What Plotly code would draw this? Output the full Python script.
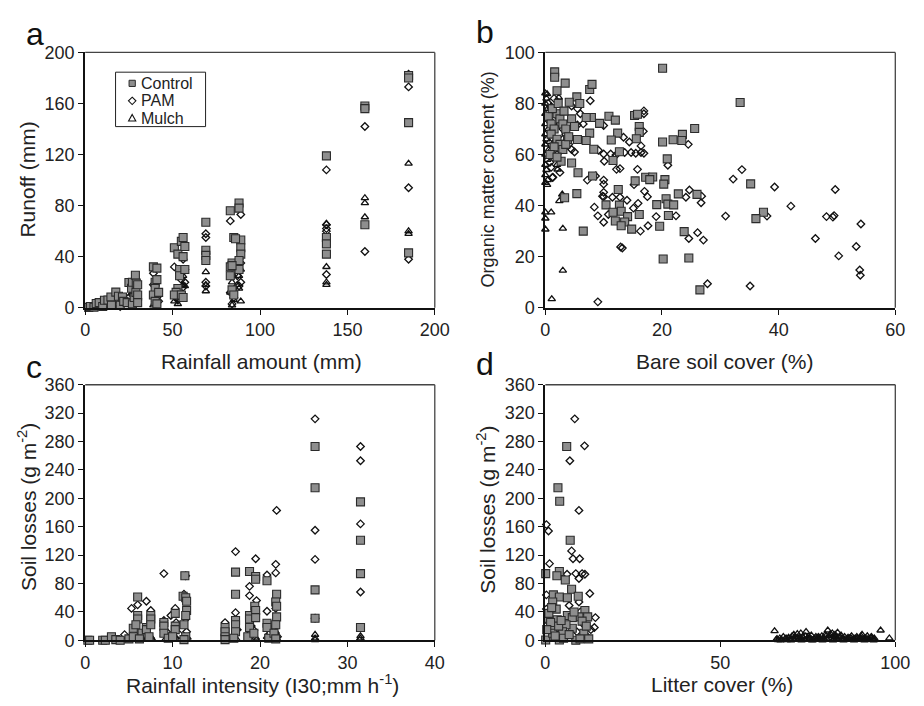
import plotly.graph_objects as go

# ---------------- Panel a: runoff vs rainfall amount ----------------
a_ctrl_x = [2, 3, 5, 6.3, 8, 10, 11, 13, 14.7, 15, 17.5, 19, 20, 21.3, 22, 24, 25, 26.5, 27, 27, 28, 28.7, 29, 29.2, 30, 30, 30,
            39, 40, 40, 39, 40, 41, 41, 42, 41,
            51, 53, 55, 56, 57, 56, 54, 54, 53, 52, 51, 55, 57, 56,
            69, 69, 69, 69,
            83, 85, 84, 83, 83, 84, 85, 88, 88, 89, 89, 89, 88, 88, 86, 84,
            138, 138, 138, 138, 160, 160, 160, 185, 185, 185, 185]
a_ctrl_y = [0.3, 1, 0.5, 3.3, 4, 1, 5.9, 6, 8.4, 2, 12.2, 9, 2, 8.4, 5, 4, 19.8, 15.3, 20, 3, 8, 25.4, 12, 19.3, 18, 10, 4,
            32, 20, 15, 10, 5, 31, 22, 12, 3,
            47, 42, 52, 55, 48, 40, 30, 25, 15, 12, 10, 10, 30, 8,
            67, 45, 41, 37,
            76, 55, 35, 32, 25, 14, 10, 82, 78, 53, 47, 42, 37, 30, 54, 33,
            119, 55, 50, 42, 158, 156, 65, 182, 180, 145, 43]

a_pam_x = [2, 5, 8, 12, 15, 18, 20, 22, 25, 26, 27, 28, 29, 30,
           39, 40, 41, 40, 39, 42,
           51, 56, 57, 55, 54, 52, 53, 57, 56, 55,
           69, 69, 69, 69, 69,
           83, 89, 88, 89, 87, 89, 88, 84, 83, 85, 84,
           138, 138, 138, 138, 138, 160, 160, 185, 185, 185, 185]
a_pam_y = [0.5, 1, 2, 3, 3, 4, 1, 5, 8, 4, 10, 15, 8, 6,
           27, 12, 8, 3, 18, 5,
           32, 38, 30, 27, 12, 8, 6, 20, 16, 22,
           58, 55, 20, 17, 42,
           68, 73, 38, 35, 25, 20, 17, 25, 12, 8, 3,
           108, 65, 62, 60, 26, 142, 44, 183, 173, 94, 38]

a_mulch_x = [3, 6, 10, 14, 18, 22, 25, 27, 28, 29, 30,
             40, 41, 39,
             51, 53, 56, 57, 55, 54, 52, 56,
             69, 69, 69, 69,
             89, 88, 89, 88, 84, 83, 85, 84, 87,
             138, 138, 138, 138, 160, 160, 160, 185, 185, 185]
a_mulch_y = [0.3, 0.5, 1, 1, 2, 3, 5, 12, 8, 4, 3,
             6, 3, 2,
             5, 3, 18, 17, 10, 8, 12, 25,
             43, 28, 18, 13,
             30, 25, 5, 15, 20, 12, 6, 2, 18,
             66, 32, 20, 18, 86, 82, 71, 113, 60, 58]

# ---------------- Panel b: organic matter vs bare soil cover ----------------
b_ctrl_x = [1.6, 1.6, 2.0, 3.4, 7.6, 8.0, 5.4, 4.1, 5.9, 20.1, 33.4, 10.9, 12.0, 7.9, 7.0, 9.3, 15.3, 15.8, 25.6, 23.5,
            21.9, 23.4, 20.1, 12.4, 11.3, 7.6, 7.0, 5.5, 3.8, 16.1, 16.1, 15.6, 12.7, 8.3, 11.6, 20.9, 4.5, 2.7, 5.6, 8.1,
            17.2, 18.4, 17.9, 15.4, 20.5, 20.3, 35.2, 12.5, 5.4, 22.8, 26.0, 3.3, 19.1, 20.7, 10.4, 12.7, 21.0, 22.0, 37.4, 36.1,
            13.0, 14.1, 16.1, 11.6, 12.0, 13.6, 13.0, 14.8, 19.6, 6.5, 23.8, 20.2, 24.6, 26.5, 21.1,
            0.5, 1.0, 1.5, 2.0, 2.5, 3.0, 3.5, 1.0, 2.0, 2.5, 3.0, 1.5, 0.8, 2.0, 3.5, 4.0, 4.5, 5.0, 1.2, 2.2, 3.2]
b_ctrl_y = [92.4, 90.3, 85.0, 88.0, 85.5, 87.5, 82.6, 80.5, 80.0, 93.8, 80.4, 75.0, 73.5, 74.5, 74.5, 72.2, 75.3, 75.8, 70.2, 67.9,
            65.8, 65.5, 64.9, 68.4, 65.7, 68.4, 65.5, 65.9, 65.9, 71.0, 68.7, 66.2, 61.1, 62.1, 57.7, 58.3, 56.7, 57.4, 52.9, 51.6,
            51.1, 51.2, 50.2, 49.7, 50.2, 48.4, 48.5, 46.3, 44.7, 44.6, 44.4, 43.1, 40.4, 42.7, 40.3, 40.2, 40.6, 40.3, 37.4, 34.9,
            37.8, 35.7, 36.5, 37.4, 34.0, 33.6, 32.1, 30.8, 31.9, 30.0, 29.8, 19.1, 19.5, 7.0, 36.1,
            75, 72, 70, 76, 74, 72, 70, 68, 66, 64, 62, 63, 60, 59, 64, 67, 74, 71, 78, 80, 77]

b_pam_x = [7.7, 16.9, 16.9, 10.0, 16.8, 5.5, 24.5, 13.4, 14.4, 14.7, 15.5, 13.6, 10.0, 11.2, 12.1, 16.4, 16.4, 16.9, 9.1, 10.1,
           21.0, 12.8, 12.2, 15.8, 15.2, 7.2, 8.6, 1.3, 10.0, 10.0, 10.0, 10.0, 9.8, 11.5, 12.8, 17.0, 17.5, 15.9, 14.0, 10.8,
           8.4, 9.0, 10.0, 15.1, 19.0, 17.6, 16.3, 22.4, 24.7, 24.1, 26.8, 26.7, 26.1, 24.6, 27.1, 27.8, 32.2, 33.7, 30.9, 38.0,
           35.1, 39.3, 42.1, 46.3, 48.2, 49.3, 49.5, 49.7, 50.3, 53.3, 53.9, 54.0, 54.1, 13.2, 12.9, 9.0,
           0.5, 1.0, 1.5, 2.0, 2.5, 3.0, 3.5, 4.0, 4.5, 5.0, 2.0, 1.0, 1.2, 0.8, 2.5, 6.0, 6.5, 4.5, 5.5, 3.0, 1.5]
b_pam_y = [81.1, 77.1, 76.0, 71.4, 69.1, 71.6, 64.0, 66.8, 64.9, 60.8, 60.5, 60.8, 60.2, 60.2, 59.8, 63.4, 60.8, 60.5, 61.7, 57.4,
           55.8, 54.5, 54.2, 54.2, 48.2, 50.0, 51.6, 51.1, 50.0, 48.4, 45.2, 43.5, 43.7, 43.3, 43.3, 45.6, 43.5, 40.9, 42.1, 36.5,
           39.4, 36.0, 33.5, 39.0, 35.7, 32.1, 30.0, 36.0, 46.1, 43.3, 43.7, 41.1, 29.4, 27.1, 26.5, 9.4, 50.4, 54.1, 35.9, 35.9,
           8.5, 47.3, 39.8, 27.1, 35.7, 35.5, 36.1, 46.3, 20.3, 24.0, 14.8, 12.7, 32.8, 23.4, 23.8, 2.3,
           80, 78, 82, 75, 72, 70, 68, 64, 62, 61, 60, 55, 51, 57, 53, 76, 72, 79, 78, 66, 64]

b_mulch_x = [0.3, 0.0, 0.2, 0.0, 0.4, 0.0, 0.3, 0.0, 0.5, 0.0, 0.2, 0.0, 0.6, 0.0, 0.3, 0.0, 0.2, 0.0, 0.4, 0.0,
             1.0, 1.5, 2.3, 1.2, 1.8, 1.0, 2.0, 2.1, 0.3, 2.4, 2.9, 1.0, 0.0, 0.0, 0.0, 3.0, 3.0, 1.1, 0.8, 1.5, 0.7]
b_mulch_y = [83.7, 84.0, 82.0, 80.0, 78.0, 76.0, 74.0, 72.0, 70.0, 68.0, 66.0, 64.0, 62.0, 60.0, 58.0, 56.0, 54.0, 52.0, 50.0, 49.0,
             79.0, 77.0, 82.4, 70.0, 66.0, 62.0, 56.0, 54.2, 48.2, 41.8, 44.4, 37.4, 37.4, 35.0, 30.7, 31.0, 14.6, 3.4, 74.0, 71.0, 65.0]

# ---------------- Panel c: soil losses vs rainfall intensity ----------------
c_ctrl_x = [0.3, 0.5, 2.0, 2.3, 3.0, 3.5, 4.0, 5.0, 5.5, 5.5, 6.0, 6.0, 6.0, 5.8, 6.5, 7.0, 7.0, 7.5, 7.5, 7.5, 7.3, 6.2,
            9.0, 9.0, 9.0, 9.5, 10.3, 10.3, 10.3, 10.0, 11.2, 11.4, 11.5, 11.6, 11.6, 11.5, 11.3, 11.5, 11.3,
            16.0, 16.0, 16.0, 16.0, 17.2, 17.2, 17.2, 17.2, 17.2, 17.0, 18.8, 18.8, 18.8, 18.8, 18.6,
            19.5, 19.5, 19.4, 19.5, 19.5, 19.3, 20.8, 20.8, 20.8, 21.0, 21.9, 21.8, 21.9, 21.9, 21.8, 21.6, 21.8,
            26.3, 26.3, 26.3, 26.3, 31.5, 31.5, 31.5, 31.5]
c_ctrl_y = [0, 0, 0, 0, 5, 1, 0, 2, 17, 5, 61, 35, 30, 22, 10, 18, 15, 35, 30, 22, 5, 2,
            25, 20, 10, 3, 38, 20, 15, 5, 62, 91, 60, 55, 42, 35, 22, 5, 1,
            18, 12, 5, 1, 96, 65, 28, 22, 12, 3, 97, 35, 30, 18, 5,
            90, 86, 48, 42, 32, 10, 84, 24, 18, 3, 65, 54, 48, 33, 22, 10, 2,
            273, 215, 71, 31, 195, 141, 94, 18]

c_pam_x = [4.5, 5.3, 5.5, 6.0, 6.3, 7.0, 7.5, 7.2, 9.0, 9.0, 9.3, 9.8, 10.3, 10.4, 10.8, 11.5, 11.3, 11.6, 11.5,
           16.0, 16.0, 17.2, 17.2, 17.4, 18.8, 18.8, 19.0, 19.5, 19.6, 19.3, 20.8, 20.8, 21.0, 21.9, 21.8, 21.8, 21.8, 21.6, 22.0,
           26.3, 26.3, 26.3, 26.3, 31.5, 31.5, 31.5, 31.5]
c_pam_y = [8, 45, 10, 50, 3, 55, 42, 8, 94, 28, 12, 35, 45, 25, 8, 91, 65, 12, 30,
           25, 8, 125, 39, 15, 76, 63, 20, 115, 56, 14, 92, 41, 8, 183, 107, 95, 45, 18, 5,
           312, 155, 114, 31, 273, 253, 164, 68]

c_mulch_x = [4.0, 5.0, 5.8, 6.4, 7.0, 7.5, 7.6, 9.0, 9.2, 10.0, 10.3, 11.3, 11.5, 11.7, 16.0, 16.2, 17.0, 17.3,
             18.8, 18.9, 19.2, 19.5, 19.6, 20.8, 21.0, 21.8, 21.9, 22.0, 26.3, 26.3, 26.3, 31.5, 31.5, 31.4]
c_mulch_y = [0.5, 1, 2, 4, 1, 5, 3, 8, 2, 1, 4, 6, 2, 4, 2, 0.5, 6, 2,
             15, 12, 8, 4, 1, 5, 2, 12, 6, 1, 8, 3, 0.5, 6, 3, 1]

# ---------------- Panel d: soil losses vs litter cover ----------------
d_ctrl_x = [6.1, 3.6, 4.1, 7.1, 0.1, 4.0, 3.3, 5.7, 7.5, 9.4, 2.3, 4.0, 6.3, 2.1, 11.3, 3.1, 6.3, 9.6, 12.1, 7.7,
            10.5, 2.1, 7.7, 11.0, 2.1, 4.0, 8.7, 0.1, 12.4, 5.9, 3.4, 0.7, 2.1, 4.9,
            1.0, 1.5, 2.8, 3.8, 5.2, 6.8, 8.2, 9.9, 11.7, 0.4, 1.8, 4.5]
d_ctrl_y = [273, 215, 196, 141, 94, 97, 91, 85, 72, 62, 64, 61, 60, 54, 42, 44, 35, 33, 33, 32,
            27, 17, 17, 10, 4, 0.5, 0, 0.5, 2, 22, 29, 31, 10, 12,
            38, 25, 6, 20, 3, 8, 40, 2, 20, 15, 46, 28]

d_pam_x = [8.4, 11.2, 7.0, 9.6, 0.3, 0.9, 7.5, 7.9, 9.8, 1.2, 6.2, 8.7, 10.5, 11.3, 9.6, 12.7, 14.3, 0.3, 6.8, 9.6,
           0.3, 1.0, 2.0, 4.0, 6.0, 9.0, 12.0, 13.0, 14.0, 10.0, 11.0]
d_pam_y = [312, 274, 253, 183, 163, 154, 126, 115, 115, 108, 93, 94, 94, 93, 87, 66, 32, 64, 49, 54,
           44, 25, 20, 15, 8, 12, 5, 15, 18, 40, 22]

d_mulch_x = [65.5, 66, 66.5, 67, 67.5, 68, 68.5, 69, 69.5, 70, 70.5, 71, 71.5, 72, 72.5, 73, 73.5, 74, 74.5, 75,
             75.5, 76, 76.5, 77, 77.5, 78, 78.5, 79, 79.5, 80, 80.7, 81, 81.5, 82, 82.5, 83, 83.5, 84, 84.5, 85,
             85.5, 86, 86.5, 87, 87.5, 88, 88.5, 89, 89.5, 90, 90.5, 91, 91.5, 92, 92.5, 93, 93.5, 94, 95.8, 98.3,
             67.2, 70.2, 73.2, 76.2, 79.2, 82.2, 85.2, 88.2, 91.2, 93.8,
             66.2, 68.8, 71.3, 72.8, 74.2, 75.8, 77.3, 78.2, 80.2, 81.2, 82.8, 83.2, 84.2, 86.2, 87.2, 89.2, 90.2, 92.2, 93.2, 94.0,
             69.8, 72.2, 74.8, 77.8, 80.4, 82.4, 84.8, 86.8, 88.8, 91.8]
d_mulch_y = [13, 1, 0.5, 3, 1, 5, 2, 0.5, 4, 1, 6, 8, 3, 9, 2, 10, 5, 1, 12, 4,
             2, 7, 0.5, 3, 1, 5, 2, 6, 3, 8, 14, 4, 9, 10, 6, 5, 11, 4, 7, 2,
             5, 1, 4, 3, 6, 2, 3, 5, 1, 4, 8, 2, 3, 6, 1, 4, 2, 3, 14, 3,
             0, 0, 0, 0, 0, 0, 0, 0, 0, 0,
             2, 3, 5, 4, 6, 3, 5, 4, 6, 7, 8, 3, 5, 2, 4, 3, 6, 2, 5, 1,
             1.5, 1, 2, 1.5, 2, 1, 1.5, 1, 2, 1]

series_names = ["Control", "PAM", "Mulch"]
legend_labels = ["Control", "PAM", "Mulch"]

FONT = "Arial, Liberation Sans, Helvetica, sans-serif"
W, H = 924, 706

# marker styles for each treatment
styles = {
    "Control": dict(symbol="square", size=8, color="#8e8e8e", line=dict(color="#2b2b2b", width=1.1)),
    "PAM": dict(symbol="diamond-open", size=5.8, color="#111111", line=dict(color="#111111", width=1.3)),
    "Mulch": dict(symbol="triangle-up-open", size=6.5, color="#111111", line=dict(color="#111111", width=1.3)),
}

panels = [
    ("x", "y", [(a_ctrl_x, a_ctrl_y), (a_pam_x, a_pam_y), (a_mulch_x, a_mulch_y)]),
    ("x2", "y2", [(b_ctrl_x, b_ctrl_y), (b_pam_x, b_pam_y), (b_mulch_x, b_mulch_y)]),
    ("x3", "y3", [(c_ctrl_x, c_ctrl_y), (c_pam_x, c_pam_y), (c_mulch_x, c_mulch_y)]),
    ("x4", "y4", [(d_ctrl_x, d_ctrl_y), (d_pam_x, d_pam_y), (d_mulch_x, d_mulch_y)]),
]

fig = go.Figure()
# mulch first, then PAM, control on top
for pi, (xa, ya, data) in enumerate(panels):
    for si in [2, 1, 0]:
        name = series_names[si]
        xs, ys = data[si]
        fig.add_trace(go.Scatter(
            x=xs, y=ys, mode="markers", name=name, showlegend=False,
            marker=styles[name], xaxis=xa, yaxis=ya, cliponaxis=False,
            hoverinfo="skip",
        ))


def px_x(p):
    """pixel column -> paper fraction"""
    return p / W


def px_y(p):
    """pixel row -> paper fraction"""
    return 1 - p / H


left_dom = [px_x(82), px_x(439.3)]
right_dom = [px_x(552.3), px_x(910)]
top_dom = [px_y(306.4), px_y(43.7)]
bot_dom = [px_y(648.7), px_y(385.7)]

tickfont = dict(family=FONT, size=18, color="#222222")
axis_common = dict(showline=True, linecolor="#111111", linewidth=2, ticks="outside", ticklen=5,
                   tickwidth=1, tickcolor="#111111", showgrid=False, zeroline=False,
                   tickfont=tickfont, fixedrange=True)

fig.update_layout(
    width=W, height=H, margin=dict(l=0, r=0, t=0, b=0),
    paper_bgcolor="white", plot_bgcolor="white",
    font=dict(family=FONT, color="#222222"),
    xaxis=dict(domain=left_dom, range=[0, 200], tickvals=[0, 50, 100, 150, 200], anchor="y", **axis_common),
    yaxis=dict(domain=top_dom, range=[0, 200], tickvals=[0, 40, 80, 120, 160, 200], anchor="x", **axis_common),
    xaxis2=dict(domain=right_dom, range=[0, 60], tickvals=[0, 20, 40, 60], anchor="y2", **axis_common),
    yaxis2=dict(domain=top_dom, range=[0, 100], tickvals=[0, 20, 40, 60, 80, 100], anchor="x2", **axis_common),
    xaxis3=dict(domain=left_dom, range=[0, 40], tickvals=[0, 10, 20, 30, 40], anchor="y3", **axis_common),
    yaxis3=dict(domain=bot_dom, range=[0, 360], tickvals=list(range(0, 361, 40)), anchor="x3", **axis_common),
    xaxis4=dict(domain=right_dom, range=[0, 100], tickvals=[0, 50, 100], anchor="y4", **axis_common),
    yaxis4=dict(domain=bot_dom, range=[0, 360], tickvals=list(range(0, 361, 40)), anchor="x4", **axis_common),
    showlegend=False,
)

# thin frame on the top and right of every plot area
for xa, ya in [("x", "y"), ("x2", "y2"), ("x3", "y3"), ("x4", "y4")]:
    fig.add_shape(type="line", xref=f"{xa} domain", yref=f"{ya} domain",
                  x0=0, x1=1, y0=1, y1=1, line=dict(color="#444444", width=1.3), layer="below")
    fig.add_shape(type="line", xref=f"{xa} domain", yref=f"{ya} domain",
                  x0=1, x1=1, y0=0, y1=1, line=dict(color="#444444", width=1.3), layer="below")

# legend box of panel a, drawn with shapes and text
fig.add_shape(type="rect", xref="paper", yref="paper",
              x0=px_x(113), x1=px_x(205), y0=px_y(120), y1=px_y(64),
              line=dict(color="#222222", width=1), fillcolor="white", layer="above")
key_x = 130
key_rows = [75.5, 93.5, 111.5]
hs = 3.2  # half size of the key symbols, px
# square key
fig.add_shape(type="rect", xref="paper", yref="paper",
              x0=px_x(key_x - hs), x1=px_x(key_x + hs), y0=px_y(key_rows[0] + hs), y1=px_y(key_rows[0] - hs),
              line=dict(color="#2b2b2b", width=1), fillcolor="#8e8e8e", layer="above")
# diamond key
cy = key_rows[1]
fig.add_shape(type="path", xref="paper", yref="paper", layer="above",
              path=(f"M {px_x(key_x)},{px_y(cy - 3.8)} L {px_x(key_x + 3.8)},{px_y(cy)} "
                    f"L {px_x(key_x)},{px_y(cy + 3.8)} L {px_x(key_x - 3.8)},{px_y(cy)} Z"),
              line=dict(color="#111111", width=1.1), fillcolor="white")
# triangle key
cy = key_rows[2]
fig.add_shape(type="path", xref="paper", yref="paper", layer="above",
              path=(f"M {px_x(key_x)},{px_y(cy - 4)} L {px_x(key_x + 3.7)},{px_y(cy + 2.8)} "
                    f"L {px_x(key_x - 3.7)},{px_y(cy + 2.8)} Z"),
              line=dict(color="#111111", width=1.1), fillcolor="white")
for label, row in zip(legend_labels, key_rows):
    fig.add_annotation(xref="paper", yref="paper", x=px_x(137), y=px_y(row), text=label,
                       showarrow=False, xanchor="left", yanchor="middle",
                       font=dict(family=FONT, size=16, color="#222222"))

title_font = dict(family=FONT, size=21, color="#222222")
letter_font = dict(family=FONT, size=32, color="#111111")
annos = [
    # axis titles
    dict(text="Rainfall amount (mm)", x=px_x(262), y=px_y(362), font=title_font),
    dict(text="Bare soil cover (%)", x=px_x(735), y=px_y(362), font=title_font),
    dict(text="Rainfall intensity (I30;mm h<sup>-1</sup>)", x=px_x(263), y=px_y(694), font=title_font),
    dict(text="Litter cover (%)", x=px_x(733), y=px_y(694), font=title_font),
    dict(text="Runoff (mm)", x=px_x(23), y=px_y(175), font=title_font, textangle=-90),
    dict(text="Organic matter content (%)", x=px_x(494), y=px_y(174),
         font=dict(family=FONT, size=18, color="#222222"), textangle=-90),
    dict(text="Soil losses (g m<sup>-2</sup>)", x=px_x(23), y=px_y(512), font=title_font, textangle=-90),
    dict(text="Soil losses (g m<sup>-2</sup>)", x=px_x(492), y=px_y(514), font=title_font, textangle=-90),
    # panel letters
    dict(text="a", x=px_x(31), y=px_y(25), font=letter_font),
    dict(text="b", x=px_x(491), y=px_y(23), font=letter_font),
    dict(text="c", x=px_x(30), y=px_y(367), font=letter_font),
    dict(text="d", x=px_x(491), y=px_y(364), font=letter_font),
]
for a in annos:
    fig.add_annotation(xref="paper", yref="paper", showarrow=False, xanchor="center", yanchor="middle", **a)

fig.write_html("out.html")
